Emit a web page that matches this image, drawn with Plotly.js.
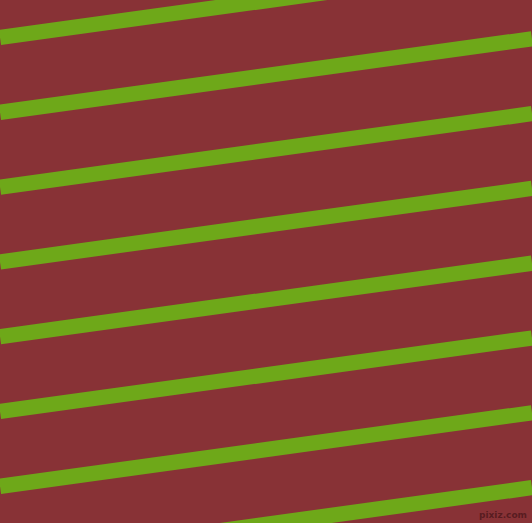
<!DOCTYPE html>
<html>
<head>
<meta charset="utf-8">
<script src="https://cdn.plot.ly/plotly-3.0.1.min.js"></script>
<style>html,body{margin:0;padding:0;background:#883236;overflow:hidden}#chart{width:532px;height:523px}</style>
</head>
<body>
<div id="chart"></div>
<script>
// Stripe centre heights (px from top) read at the left and right edges
var stripeX = [0, 532];
var stripeLeftY = [37.5, 112.3, 187.1, 261.9, 336.7, 411.5, 486.3, 561.1];
var stripeRightY = [-36.0, 38.8, 113.6, 188.4, 263.2, 338.0, 412.8, 487.6];
var watermark = "<b>pixiz.com</b>";

var bg = "#883236";
var green = "#6EA819";

var traces = stripeLeftY.map(function (ly, i) {
  return {
    type: "scatter",
    mode: "lines",
    x: stripeX,
    y: [ly, stripeRightY[i]],
    line: { color: green, width: 15.3 },
    hoverinfo: "skip",
    showlegend: false
  };
});

var layout = {
  width: 532,
  height: 523,
  margin: { l: 0, r: 0, t: 0, b: 0, pad: 0 },
  paper_bgcolor: bg,
  plot_bgcolor: bg,
  showlegend: false,
  xaxis: { range: [0, 532], visible: false, fixedrange: true },
  yaxis: { range: [523, 0], visible: false, fixedrange: true },
  annotations: [{
    text: watermark,
    x: 1, y: 0, xref: "paper", yref: "paper",
    xanchor: "right", yanchor: "bottom",
    xshift: -3, yshift: 1,
    showarrow: false,
    font: { family: "DejaVu Sans, sans-serif", size: 9, color: "rgba(75,22,26,0.8)" }
  }]
};

Plotly.newPlot("chart", traces, layout, { displayModeBar: false, staticPlot: true });
</script>
</body>
</html>
